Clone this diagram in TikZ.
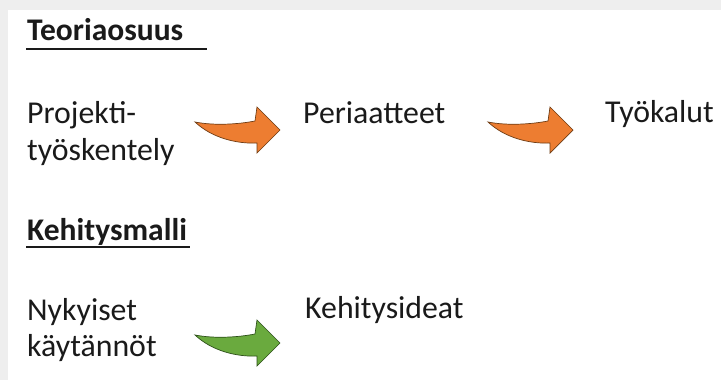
\documentclass[tikz,border=0pt]{standalone}
\usepackage{fontspec}
\setmainfont{Carlito}
\definecolor{bandgray}{RGB}{238,238,238}
\definecolor{textcol}{RGB}{26,26,26}
\definecolor{arroworange}{RGB}{237,125,49}
\definecolor{orangeedge}{RGB}{110,60,20}
\definecolor{arrowgreen}{RGB}{106,170,62}
\definecolor{greenedge}{RGB}{45,80,25}
\begin{document}
\begin{tikzpicture}[x=1pt,y=-1pt,
  txt/.style={anchor=base west, inner sep=0pt, text=textcol, font=\fontsize{31.8}{38}\selectfont},
  headtxt/.style={txt, font=\bfseries\fontsize{31.5}{38}\selectfont},
  uline/.style={draw=textcol, line width=2.4pt},
  orangearrow/.style={fill=arroworange, draw=orangeedge, line width=0.7pt},
  greenarrow/.style={fill=arrowgreen, draw=greenedge, line width=0.7pt},
  curvedarrow/.pic={
    \path[pic actions] (0,0) .. controls (20,4) and (45,2) .. (60,-1)
      -- (62,-15) -- (85,8) -- (62,31) -- (62,21)
      .. controls (42,22) and (17,16) .. (0,0) -- cycle;
  }]
\useasboundingbox (0,0) rectangle (721,380);
\fill[bandgray] (0,0) rectangle (721,380);
\fill[white] (8,10) rectangle (721,380);

% Section 1
\node[headtxt] (h1) at (27,40) {Teoriaosuus};
\coordinate (u1s) at (26,49);
\coordinate (u1e) at (207,49);
\draw[uline] (u1s) -- (u1e);

\node[txt] (p1a) at (27,123) {Projekti-};
\node[txt] (p1b) at (27,160) {työskentely};
\node[txt] (p2) at (303,123) {Periaatteet};
\node[txt] (p3) at (605,122) {Työkalut};

\pic[orangearrow] (ar1) at (195,122) {curvedarrow};
\pic[orangearrow] (ar2) at (488,122) {curvedarrow};

% Section 2
\node[headtxt] (h2) at (27,240) {Kehitysmalli};
\coordinate (u2s) at (26,247);
\coordinate (u2e) at (190,247);
\draw[uline] (u2s) -- (u2e);

\node[txt] (k1a) at (27,320) {Nykyiset};
\node[txt] (k1b) at (27,356) {käytännöt};
\node[txt] (k2) at (305,318) {Kehitysideat};

\pic[greenarrow] (ar3) at (195,335) {curvedarrow};
\end{tikzpicture}
\end{document}
